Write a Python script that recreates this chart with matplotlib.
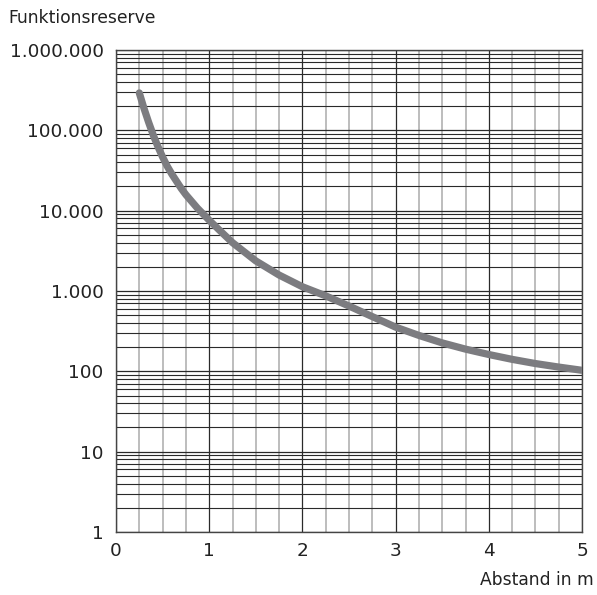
import matplotlib
matplotlib.use("Agg")
import matplotlib.pyplot as plt
from matplotlib.ticker import FixedLocator, NullFormatter

# Data
distance_m = [0.25, 0.3, 0.35, 0.4, 0.45, 0.5, 0.55, 0.6, 0.7, 0.75, 0.875,
              1.0, 1.125, 1.25, 1.5, 1.75, 2.0, 2.25, 2.5, 2.75,
              3.0, 3.25, 3.5, 3.75, 4.0, 4.25, 4.5, 4.75, 5.0]
reserve = [292000, 188000, 126000, 87000, 62700, 46500, 35700, 28400, 18900, 15800, 10700,
           7600, 5500, 4000, 2370, 1580, 1130, 870, 650, 480,
           355, 280, 226, 189, 162, 141, 125, 113, 103]

x_ticks = [0, 1, 2, 3, 4, 5]
x_tick_labels = ["0", "1", "2", "3", "4", "5"]
y_ticks = [1, 10, 100, 1000, 10000, 100000, 1000000]
y_tick_labels = ["1", "10", "100", "1.000", "10.000", "100.000", "1.000.000"]
y_label = "Funktionsreserve"
x_label = "Abstand in m"

plt.rcParams['font.family'] = ['DejaVu Sans']

fig = plt.figure(figsize=(5.97, 5.95), dpi=100)
ax = fig.add_axes([116/597, 1-532/595, (582-116)/597, (532-50)/595])

ax.set_yscale('log')
ax.set_xlim(0, 5)
ax.set_ylim(1, 1e6)

ax.xaxis.set_major_locator(FixedLocator(x_ticks))
ax.set_xticklabels(x_tick_labels)
ax.xaxis.set_minor_locator(FixedLocator([i * 0.25 for i in range(21) if i % 4 != 0]))
ax.yaxis.set_major_locator(FixedLocator(y_ticks))
ax.set_yticklabels(y_tick_labels)
minor_y = [m * 10**d for d in range(6) for m in range(2, 10)]
ax.yaxis.set_minor_locator(FixedLocator(minor_y))
ax.yaxis.set_minor_formatter(NullFormatter())
ax.xaxis.set_minor_formatter(NullFormatter())

ax.tick_params(which='both', length=0)
ax.tick_params(axis='y', which='major', pad=9, labelsize=13.3, colors='#222222')
ax.tick_params(axis='x', which='major', pad=7, labelsize=13.3, colors='#222222')

ax.grid(True, axis='y', which='major', color='#2a2a2a', linewidth=0.9)
ax.grid(True, axis='y', which='minor', color='#2a2a2a', linewidth=0.8)
ax.grid(True, axis='x', which='major', color='#2a2a2a', linewidth=0.9)
ax.grid(True, axis='x', which='minor', color='#b8b8b8', linewidth=1.3)
ax.set_axisbelow(True)

for s in ax.spines.values():
    s.set_color('#444444')
    s.set_linewidth(1.0)

ax.plot(distance_m, reserve, color='#7c7c80', linewidth=5.2,
        solid_capstyle='round', solid_joinstyle='round', zorder=5)

fig.text(8/597, 1-18/595, y_label, ha='left', va='center', fontsize=12.3, color='#222222')
fig.text(594/597, 1-580/595, x_label, ha='right', va='center', fontsize=12.3, color='#222222')

fig.savefig("out.png", dpi=100)
